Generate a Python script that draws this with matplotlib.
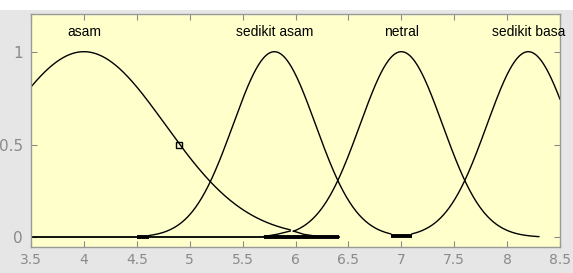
import numpy as np
import matplotlib
matplotlib.use("Agg")
import matplotlib.pyplot as plt
from matplotlib.patches import Rectangle

# Membership function parameters (gaussian): name, center, sigma, drawn x-range
mf_names = ["asam", "sedikit asam", "netral", "sedikit basa"]
mf_centers = [4.0, 5.8, 7.0, 8.2]
mf_sigmas = [0.77, 0.39, 0.39, 0.39]
mf_x_start = [3.5, 4.62, 5.98, 7.10]
mf_x_end = [5.95, 6.90, 8.30, 8.5]

# odd rendering artefacts near the baseline (data coordinates)
asam_fold_x = [5.95, 5.83, 5.70]
asam_fold_y = [0.034, 0.017, 0.004]
netral_fold_x = [5.98, 6.08, 6.20]
netral_fold_y = [0.034, 0.016, 0.006]
baseline_x = [3.5, 6.41]
thick_segments = [(4.50, 4.62, 0.0), (5.70, 6.41, 0.0), (6.90, 7.10, 0.005)]

# marker
marker_x = [4.9]
marker_y = [0.5]

x_ticks = [3.5, 4, 4.5, 5, 5.5, 6, 6.5, 7, 7.5, 8, 8.5]
x_tick_labels = ["3.5", "4", "4.5", "5", "5.5", "6", "6.5", "7", "7.5", "8", "8.5"]
y_ticks = [0, 0.5, 1]
y_tick_labels = ["0", "0.5", "1"]

W, H = 573, 273
fig = plt.figure(figsize=(W / 100, H / 100), dpi=100)
fig.patch.set_facecolor("#E6E6E6")
fig.patches.append(Rectangle((0, 1 - 10 / H), 1, 10 / H, transform=fig.transFigure,
                             facecolor="white", edgecolor="none", zorder=0))

left = 31 / W
right = 560 / W
bottom = (H - 247) / H
top = (H - 14) / H
ax = fig.add_axes([left, bottom, right - left, top - bottom])
ax.set_facecolor("#FFFFCC")

lc = "black"
lw = 1.0
for c, s, x0, x1 in zip(mf_centers, mf_sigmas, mf_x_start, mf_x_end):
    x = np.linspace(x0, x1, 300)
    y = np.exp(-((x - c) ** 2) / (2 * s ** 2))
    ax.plot(x, y, color=lc, lw=lw)

ax.plot(asam_fold_x, asam_fold_y, color=lc, lw=lw)
ax.plot(netral_fold_x, netral_fold_y, color=lc, lw=lw)
ax.plot(baseline_x, [0, 0], color=lc, lw=1.3)
for a, b, yv in thick_segments:
    ax.plot([a, b], [yv, yv], color=lc, lw=2.8, solid_capstyle="butt")

ax.plot(marker_x, marker_y, marker="s", markersize=5, markerfacecolor="none",
        markeredgecolor="black", markeredgewidth=1.0, linestyle="none")

for name, c in zip(mf_names, mf_centers):
    ax.text(c, 1.105, name, ha="center", va="center", fontsize=10,
            family="Liberation Sans", color="black")

ax.set_xlim(3.5, 8.5)
ax.set_ylim(-0.052, 1.203)
ax.set_xticks(x_ticks)
ax.set_xticklabels(x_tick_labels)
ax.set_yticks(y_ticks)
ax.set_yticklabels(y_tick_labels)

tick_col = "#8a8a8a"
ax.tick_params(direction="in", length=4, width=0.8, color=tick_col, labelcolor=tick_col,
               labelsize=10, top=True, right=True, pad=4)
ax.tick_params(axis="y", labelsize=11, pad=6)
for sp in ax.spines.values():
    sp.set_color("#9a9a9a")
    sp.set_linewidth(1.0)

fig.savefig("out.png", dpi=100, facecolor=fig.get_facecolor())
